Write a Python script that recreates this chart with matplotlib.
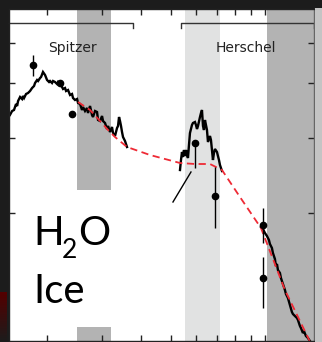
import numpy as np
import matplotlib
matplotlib.use("Agg")
import matplotlib.pyplot as plt
from matplotlib.patches import Rectangle

# x = log10(wavelength), y = flux (arbitrary units)
spitzer_x = [0.182, 0.189, 0.195, 0.2016, 0.205, 0.2081, 0.2145, 0.2209, 0.224, 0.2273,
             0.2337, 0.240, 0.2465, 0.253, 0.2593, 0.2625, 0.269, 0.2722, 0.2786, 0.2818,
             0.288, 0.2946, 0.301, 0.3074, 0.3106, 0.317, 0.3202, 0.3266, 0.3331, 0.3363,
             0.3427, 0.3491, 0.3523, 0.3587, 0.3619, 0.3683, 0.3747, 0.3811, 0.3843, 0.3907,
             0.3972, 0.4004, 0.4068, 0.4132, 0.4164, 0.4228, 0.4292, 0.4324, 0.4388, 0.4452,
             0.4484, 0.4548, 0.4613, 0.4645, 0.4709, 0.4773, 0.4805, 0.4869, 0.4933, 0.4965,
             0.5029, 0.5093, 0.5125, 0.5189, 0.5254, 0.5286, 0.5318, 0.535, 0.5382, 0.5414,
             0.5446, 0.551, 0.5574]
spitzer_y = [227, 231, 232, 238, 236, 241, 245, 243, 246, 244,
             248, 249, 251, 254, 256, 259, 262, 261, 264, 265,
             270, 267, 262, 260, 261, 259, 261, 260, 258, 260,
             258, 255, 253, 254, 251, 252, 247, 248, 244, 242,
             243, 239, 238, 232, 235, 231, 234, 229, 236, 227,
             225, 231, 230, 222, 221, 226, 221, 219, 213, 216,
             210, 215, 209, 206, 214, 216, 225, 221, 216, 210,
             205, 201, 195]

herschel_x = [0.7273, 0.7305, 0.7337, 0.7369, 0.7401, 0.7433, 0.7465, 0.7497, 0.7529, 0.7561,
              0.7593, 0.7657, 0.7689, 0.7753, 0.7785, 0.7818, 0.785, 0.7914, 0.7946, 0.7978,
              0.801, 0.8042, 0.8074, 0.8106, 0.8138, 0.817, 0.8234, 0.8266, 0.8298, 0.833,
              0.8362, 0.8394, 0.8459, 0.849, 0.8523, 0.8555, 0.8619]
herschel_y = [172, 182, 190, 185, 192, 186, 192, 187, 184, 197,
              209, 217, 219, 220, 217, 213, 216, 225, 229, 232,
              216, 212, 222, 217, 212, 200, 206, 202, 192, 182,
              189, 193, 190, 186, 182, 177, 171]

submm_x = [0.9869, 0.9933, 0.9997, 1.0061, 1.0125, 1.0157, 1.0221, 1.0253, 1.0317, 1.035,
           1.0382, 1.0414, 1.0478, 1.051, 1.0574, 1.0638, 1.067, 1.0734, 1.0798, 1.0862,
           1.0894, 1.0958, 1.1023, 1.1055, 1.1119, 1.1151, 1.1215, 1.1247, 1.1311, 1.1375,
           1.1439]
submm_y = [115, 113, 109, 106, 102, 98, 94, 89, 83, 76,
           78, 72, 69, 64, 58, 52, 48, 44, 37, 30,
           28, 26, 24, 22, 16, 14, 9, 11, 6, 4,
           1]

model_x = [0.4004, 0.4388, 0.4709, 0.4965, 0.5189, 0.5574, 0.6311, 0.7273, 0.7753, 0.8234,
           0.8619, 0.9196, 0.9869, 1.0638, 1.143]
model_y = [240, 232, 221, 212, 205, 195, 187, 179, 178, 178,
           172, 145, 114, 52, 1]

phot_x = [0.256, 0.3427, 0.3811, 0.7753, 0.8394, 0.9933, 0.9933]
phot_y = [277, 259, 228, 199, 146, 117, 64]
phot_err_lo = [10.5, 0, 0, 25, 32, 17.5, 30]
phot_err_hi = [10.5, 0, 0, 3, 29, 17.5, 21]

slash_x = [0.7048, 0.7625]
slash_y = [140, 170]

xtick_vals = [2, 3, 4, 5, 6, 7, 8, 9, 10]
ytick_vals = [299, 259, 204, 129]

spitzer_band = (0.397, 0.506)
herschel_band = (0.743, 0.856)
submm_band = (1.006, 1.157)
spitzer_bracket = (0.179, 0.577)
herschel_bracket = (0.7305, 1.157)

W, H = 322, 342
fig = plt.figure(figsize=(W / 100, H / 100), dpi=100, facecolor="#1c1c1c")
fig.patches.append(Rectangle((315 / W, 0), 7 / W, 334 / H, transform=fig.transFigure,
                             facecolor="#c4c4c4", edgecolor="none", zorder=0))
# faint reddish glow on the left frame edge
grad = np.linspace(0, 1, 50)[:, None]
gax = fig.add_axes([0, 0, 7 / W, 50 / H])
gax.imshow(np.dstack([0.11 + 0.22 * grad[::-1] * np.ones((50, 7)),
                      0.11 * (1 - grad[::-1]) * np.ones((50, 7)),
                      0.11 * (1 - grad[::-1]) * np.ones((50, 7))]),
           aspect="auto", origin="upper")
gax.set_axis_off()

ax = fig.add_axes([9 / W, 1 / H, 305 / W, 332 / H])
ax.set_facecolor("white")
ax.set_xlim(0.179, 1.157)
ax.set_ylim(1, 333)

band_dark = "#b3b3b3"
band_light = "#e1e2e2"
ax.fill_betweenx([152, 333], *spitzer_band, color=band_dark, lw=0, zorder=1)
ax.fill_betweenx([1, 15], *spitzer_band, color=band_dark, lw=0, zorder=1)
ax.fill_betweenx([1, 333], *herschel_band, color=band_light, lw=0, zorder=1)
ax.fill_betweenx([1, 333], *submm_band, color=band_dark, lw=0, zorder=1)

lc = "black"
for xs, ys in [(spitzer_x, spitzer_y), (herschel_x, herschel_y), (submm_x, submm_y)]:
    ax.plot(xs, ys, color=lc, lw=1.7, zorder=3, solid_joinstyle="miter")
ax.plot(slash_x, slash_y, color=lc, lw=1.0, zorder=3)

ax.plot(model_x, model_y, color="#ee2a35", lw=1.3, dashes=(4, 2.5), zorder=4)

ax.errorbar(phot_x, phot_y, yerr=[phot_err_lo, phot_err_hi], fmt="o", color="black",
            ms=4.5, elinewidth=1.0, capsize=0, zorder=5)

# brackets
bc = "#333333"
ax.plot([spitzer_bracket[0], spitzer_bracket[1], spitzer_bracket[1]], [319, 319, 314],
        color=bc, lw=1.0, zorder=3, clip_on=False)
ax.plot([herschel_bracket[0], herschel_bracket[0], herschel_bracket[1], herschel_bracket[1]],
        [314, 319, 319, 314], color=bc, lw=1.0, zorder=3, clip_on=False)
ax.text(0.381, 294, "Spitzer", ha="center", va="center", fontsize=10,
        family="DejaVu Sans", color="#222222", zorder=6)
ax.text(0.937, 294, "Herschel", ha="center", va="center", fontsize=10,
        family="DejaVu Sans", color="#222222", zorder=6)

# label
ax.text(0.256, 97, "H", ha="left", va="baseline", fontsize=29, family="Lato", color="black", zorder=6)
ax.text(0.349, 84, "2", ha="left", va="baseline", fontsize=19, family="Lato", color="black", zorder=6)
ax.text(0.400, 97, "O", ha="left", va="baseline", fontsize=29, family="Lato", color="black", zorder=6)
ax.text(0.256, 39, "Ice", ha="left", va="baseline", fontsize=29, family="Lato", color="black", zorder=6)

ax.set_xticks(np.log10(xtick_vals))
ax.set_yticks(ytick_vals)
ax.tick_params(axis="both", which="both", direction="in", length=4.5, width=1.0,
               top=True, right=True, labelbottom=False, labelleft=False, color="#222222")
for side in ["left", "top", "bottom"]:
    ax.spines[side].set_color("#222222")
    ax.spines[side].set_linewidth(1.0)
ax.spines["right"].set_color("#666666")
ax.spines["right"].set_linewidth(1.0)
for sp in ax.spines.values():
    sp.set_zorder(7)

fig.savefig("out.png", dpi=100, facecolor=fig.get_facecolor())
